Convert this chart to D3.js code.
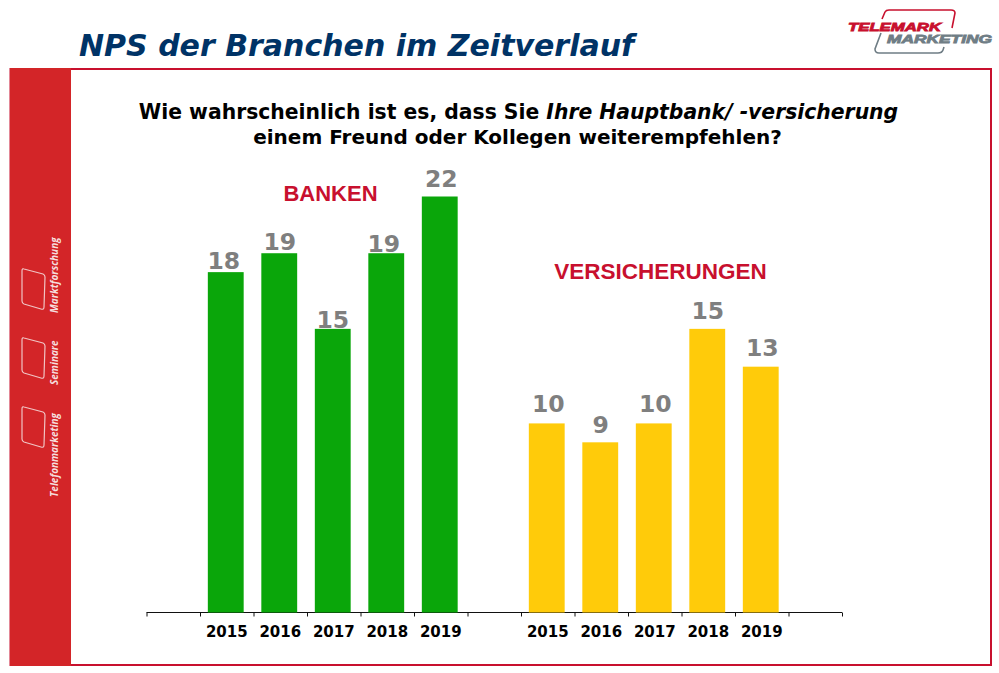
<!DOCTYPE html>
<html><head><meta charset="utf-8">
<script src="https://cdnjs.cloudflare.com/ajax/libs/d3/7.8.5/d3.min.js"></script>
<style>html,body{margin:0;padding:0;background:#fff}svg{display:block}text{font-family:"DejaVu Sans",sans-serif}</style>
</head><body><svg id="c" width="999" height="673"></svg>
<script>
const slots = ["a","B2015","B2016","B2017","B2018","B2019","b","V2015","V2016","V2017","V2018","V2019","c"];
const years = ["2015","2016","2017","2018","2019"];
const bankenValues = [18,19,15,19,22];
const versicherungenValues = [10,9,10,15,13];
const sideLabels = ["Marktforschung","Seminare","Telefonmarketing"];

const svg = d3.select("#c");
const RED="#d32528", LINE="#c8102e", DARK="#003366", LOGOGREY="#6f7d85";

// frame + sidebar
svg.append("rect").attr("x",10.5).attr("y",69).attr("width",980.5).attr("height",596).attr("fill","#fff").attr("stroke",LINE).attr("stroke-width",2);
svg.append("rect").attr("x",10).attr("y",68).attr("width",61).attr("height",598).attr("fill",RED);

// sidebar icons
const textY=[313,385,497];
sideLabels.forEach((s,i)=>{
  const y=[269,338,407][i];
  svg.append("path").attr("d",`M24,${y} L43,${y+5} Q45,${y+6} 45,${y+8} L44,${y+38} Q44,${y+41} 41,${y+40} L24,${y+35} Q22,${y+34} 22,${y+32} L22,${y+2} Q22,${y-1} 24,${y}Z`)
    .attr("fill","none").attr("stroke","#f0c4c4").attr("stroke-width",1.2);
  svg.append("text").attr("transform",`translate(58,${textY[i]}) rotate(-90)`)
    .attr("font-size",10).attr("font-weight",700).attr("font-style","italic").attr("fill","#f6dede")
    .style("font-family","'Open Sans',sans-serif").text(s);
});

// header
svg.append("text").attr("x",79).attr("y",56).attr("font-size",30).attr("font-weight",700).attr("font-style","italic")
  .attr("fill",DARK).text("NPS der Branchen im Zeitverlauf");

// logo
svg.append("path").attr("d","M882,19 L885,12 Q886,10 889,10 L951,10 Q955,10 955,13 L952,28").attr("fill","none").attr("stroke",LINE).attr("stroke-width",1.6);
svg.append("path").attr("d","M881,33 L875,49 Q875,53 879,53 L938,53 Q942,53 943,50 L944,47").attr("fill","none").attr("stroke",LOGOGREY).attr("stroke-width",1.6);
svg.append("text").attr("x",848).attr("y",30.5).attr("font-size",11.5).attr("font-weight",700).attr("font-style","italic").attr("fill",LINE)
  .attr("textLength",93).attr("lengthAdjust","spacingAndGlyphs")
  .style("font-family","Liberation Sans").style("stroke",LINE).style("stroke-width",0.8).text("TELEMARK");
svg.append("text").attr("x",887).attr("y",43.4).attr("font-size",11.5).attr("font-weight",700).attr("font-style","italic").attr("fill",LOGOGREY)
  .attr("textLength",105).attr("lengthAdjust","spacingAndGlyphs")
  .style("font-family","Liberation Sans").style("stroke",LOGOGREY).style("stroke-width",0.8).text("MARKETING");

// question
const q=svg.append("text").attr("x",518.5).attr("y",118.5).attr("text-anchor","middle").attr("font-size",20.35).attr("font-weight",700).attr("fill","#000");
q.append("tspan").text("Wie wahrscheinlich ist es, dass Sie ");
q.append("tspan").attr("font-style","italic").text("Ihre Hauptbank/ -versicherung");
svg.append("text").attr("x",517.5).attr("y",143.5).attr("text-anchor","middle").attr("font-size",20).attr("font-weight",700).attr("fill","#000")
  .text("einem Freund oder Kollegen weiterempfehlen?");

// scales
const x=d3.scaleBand().domain(slots).range([145.5,841]).paddingInner(0.33).paddingOuter(0.165);
const y=d3.scaleLinear().domain([0,22]).range([612.5,196.5]);
const edge=d3.scaleLinear().domain([0,slots.length]).range([146.5,842]);

// axis
const ax=svg.append("g").attr("transform","translate(0,612.5)")
  .call(d3.axisBottom(edge).tickValues(d3.range(slots.length+1)).tickSize(0).tickFormat(""));
ax.selectAll("line").attr("y1",0).attr("y2",4).attr("stroke","#111");
ax.select(".domain").attr("stroke","#111").attr("d","M146.5,0H842");

// data-label placement as hand-set in the original chart
const lift={B:[3,3,1,1,10],V:[11,9,11,10,11]};
const shift={B:[-2.5,0,-0.5,-3,1],V:[1,0,1,0,1]};
const bars=[
 {prefix:"B",vals:bankenValues,col:"#0aa60a"},
 {prefix:"V",vals:versicherungenValues,col:"#ffcb0a"}];
bars.forEach(g=>{
  const data=years.map((yr,i)=>({k:g.prefix+yr,yr,v:g.vals[i],i}));
  svg.append("g").selectAll("rect").data(data).join("rect")
    .attr("x",d=>x(d.k)).attr("width",x.bandwidth()).attr("y",d=>y(d.v)).attr("height",d=>y(0)-y(d.v)).attr("fill",g.col);
  svg.append("g").selectAll("text").data(data).join("text")
    .attr("x",d=>x(d.k)+x.bandwidth()/2+shift[g.prefix][d.i]+0.5).attr("y",d=>y(d.v)-lift[g.prefix][d.i]).attr("text-anchor","middle")
    .attr("font-size",23.5).attr("font-weight",700).attr("fill","#7f7f7f").text(d=>d.v);
  svg.append("g").selectAll("text").data(data).join("text")
    .attr("x",d=>x(d.k)+x.bandwidth()/2+1).attr("y",637).attr("text-anchor","middle")
    .attr("font-size",15).attr("font-weight",700).attr("fill","#000").text(d=>d.yr);
});

// group titles
svg.append("text").attr("x",330.5).attr("y",200.5).attr("text-anchor","middle").attr("font-size",22).attr("font-weight",700).attr("fill",LINE)
  .style("font-family","Liberation Sans").text("BANKEN");
svg.append("text").attr("x",660.5).attr("y",279).attr("text-anchor","middle").attr("font-size",22.5).attr("font-weight",700).attr("fill",LINE)
  .style("font-family","Liberation Sans").text("VERSICHERUNGEN");
</script></body></html>
